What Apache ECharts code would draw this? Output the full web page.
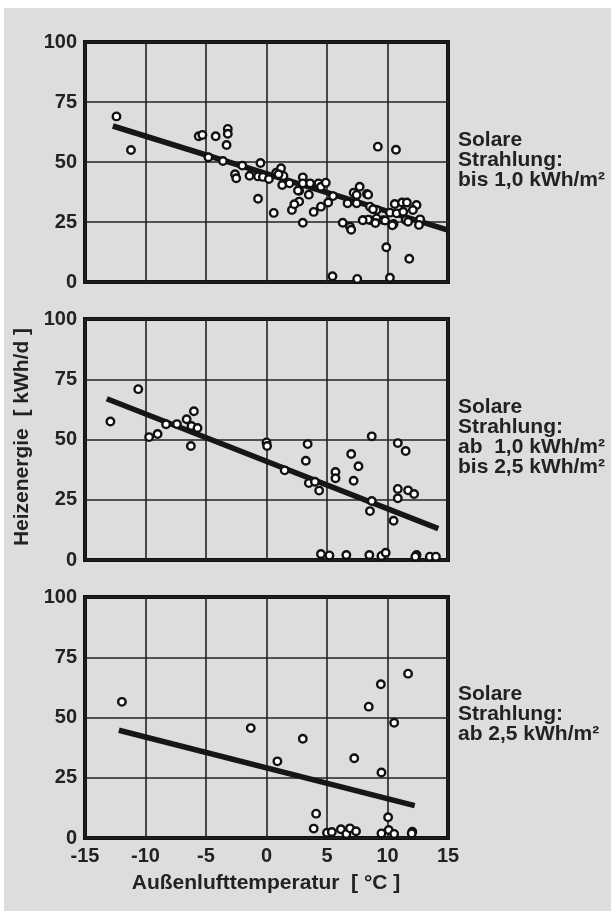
<!DOCTYPE html>
<html>
<head>
<meta charset="utf-8">
<script src="https://cdn.jsdelivr.net/npm/echarts@6/dist/echarts.min.js"></script>
<style>html,body{margin:0;padding:0;background:#fff}#c{width:611px;height:911px}</style>
</head>
<body>
<div id="c"></div>
<script>
// X axis (Außenlufttemperatur, °C) and Y axis (Heizenergie, kWh/d) ticks
const xTicks = [-15, -10, -5, 0, 5, 10, 15];
const yTicks = [0, 25, 50, 75, 100];

// Panel 1: Solare Strahlung bis 1,0 kWh/m²  -> [temperature, energy]
const panel1Points = [
  [-12.4,69.0],[-11.2,55.0],[-5.6,60.7],[-5.3,61.3],[-4.2,60.7],[-3.2,63.8],[-3.2,61.8],[-3.3,57.1],
  [-4.8,52.0],[-3.6,50.4],[-2.0,48.5],[-2.6,44.9],[-2.5,43.2],[-1.4,44.3],[-0.7,44.0],[-0.3,43.8],
  [-0.5,49.6],[-0.7,34.7],[0.2,42.9],[0.6,28.8],[0.8,45.5],[1.2,47.4],[1.4,44.2],[1.3,40.4],
  [1.9,41.1],[2.7,38.0],[3.0,43.6],[3.0,41.1],[3.6,41.1],[4.3,41.1],[4.5,39.7],[4.9,41.4],
  [5.5,35.8],[5.1,33.1],[4.5,31.4],[3.9,29.2],[2.7,33.5],[2.1,30.0],[2.3,32.4],[3.0,24.7],
  [3.5,36.4],[6.3,24.7],[6.9,23.0],[7.0,21.8],[6.7,32.8],[7.2,37.2],[7.45,36.3],[7.7,39.7],
  [8.3,36.7],[7.45,32.8],[8.0,25.8],[8.55,25.8],[9.1,26.5],[8.55,31.4],[9.1,30.0],[8.8,30.3],
  [9.65,25.8],[9.9,14.5],[10.6,32.5],[11.2,33.1],[11.6,33.1],[12.4,32.1],[10.2,28.9],[10.75,28.6],
  [11.3,29.3],[12.1,30.0],[9.8,25.6],[10.5,24.2],[11.5,25.8],[11.7,25.1],[12.7,26.1],[12.6,23.8],
  [11.8,9.7],[9.2,56.4],[10.7,55.1],[5.45,2.4],[7.5,1.3],[10.2,1.8],[9.0,24.6],[10.4,23.6],
  [8.4,36.4],[8.4,26.0],[7.95,25.7],[1.0,44.9],[2.6,38.1]
];
const panel1Trend = [[-12.7,65.0],[15,21.6]];

// Panel 2: Solare Strahlung ab 1,0 bis 2,5 kWh/m²
const panel2Points = [
  [-12.9,57.5],[-10.6,70.9],[-9.7,51.0],[-9.0,52.3],[-8.3,56.3],[-7.4,56.4],[-6.6,58.4],[-6.0,61.7],
  [-6.2,55.6],[-5.7,54.8],[-6.25,47.3],[0.0,48.8],[0.05,47.3],[1.5,37.2],[3.4,48.1],[3.25,41.2],
  [3.5,31.9],[4.0,32.5],[4.35,28.8],[4.5,2.5],[5.2,1.9],[5.7,36.5],[5.7,33.9],[6.6,2.1],
  [7.0,44.0],[7.6,38.9],[7.2,32.9],[8.7,51.3],[8.7,24.5],[8.55,20.3],[8.5,2.1],[9.5,1.7],
  [9.85,3.0],[10.5,16.3],[10.85,48.5],[11.5,45.2],[10.85,29.5],[10.85,25.6],[11.7,28.9],[12.2,27.4],
  [12.4,2.1],[12.3,1.4],[13.5,1.4],[14.0,1.4]
];
const panel2Trend = [[-13.2,66.9],[14.2,13.0]];

// Panel 3: Solare Strahlung ab 2,5 kWh/m²
const panel3Points = [
  [-11.95,56.5],[-1.3,45.6],[0.9,31.8],[3.0,41.2],[4.1,10.1],[3.9,3.9],[5.0,2.2],[5.4,2.5],
  [6.15,3.6],[6.6,1.7],[6.9,4.0],[7.4,2.8],[7.25,33.1],[8.45,54.5],[9.45,63.8],[9.5,27.2],
  [9.5,1.9],[10.05,8.6],[10.1,3.3],[10.55,1.7],[10.55,47.8],[11.7,68.2],[12.05,2.6],[12.0,1.9]
];
const panel3Trend = [[-12.2,44.7],[12.25,13.4]];

const panelLabels = [
  'Solare\nStrahlung:\nbis 1,0 kWh/m²',
  'Solare\nStrahlung:\nab  1,0 kWh/m²\nbis 2,5 kWh/m²',
  'Solare\nStrahlung:\nab 2,5 kWh/m²'
];
const xTitle = 'Außenlufttemperatur  [ °C ]';
const yTitle = 'Heizenergie  [ kWh/d ]';

const FONT = '"Liberation Sans", Arial, sans-serif';
const INK = '#222';
const gridTops = [42, 319, 597];
const gridHeights = [240, 241, 241];
const labelTops = [130, 397, 684];

const grids = gridTops.map((t, i) => ({
  left: 85, top: t, width: 363, height: gridHeights[i],
  show: true, borderColor: '#111', borderWidth: 4, backgroundColor: 'transparent'
}));
const xAxes = gridTops.map((t, i) => ({
  type: 'value', gridIndex: i, min: xTicks[0], max: xTicks[xTicks.length - 1], interval: 5,
  axisLine: { show: false }, axisTick: { show: false },
  axisLabel: { show: i === 2, fontFamily: FONT, fontWeight: 'bold', fontSize: 20, color: INK, margin: 8 },
  splitLine: { show: true, lineStyle: { color: '#222', width: 1.6 } }
}));
const yAxes = gridTops.map((t, i) => ({
  type: 'value', gridIndex: i, min: yTicks[0], max: yTicks[yTicks.length - 1], interval: 25,
  axisLine: { show: false }, axisTick: { show: false },
  axisLabel: { fontFamily: FONT, fontWeight: 'bold', fontSize: 20, color: INK, margin: 8 },
  splitLine: { show: true, lineStyle: { color: '#222', width: 1.6 } }
}));

const pointSets = [panel1Points, panel2Points, panel3Points];
const trends = [panel1Trend, panel2Trend, panel3Trend];
const series = [];
trends.forEach((tr, i) => series.push({
  type: 'line', xAxisIndex: i, yAxisIndex: i, data: tr, symbol: 'none', silent: true,
  lineStyle: { color: '#161616', width: 5.5 }, clip: true, z: 3, animation: false
}));
pointSets.forEach((pts, i) => series.push({
  type: 'scatter', xAxisIndex: i, yAxisIndex: i, data: pts, symbol: 'circle', symbolSize: 7.5,
  itemStyle: { color: '#fff', borderColor: '#111', borderWidth: 2.4, opacity: 1 }, z: 5, animation: false
}));

const graphic = [
  { type: 'rect', shape: { x: 0, y: 0, width: 4, height: 911 }, style: { fill: '#fff' }, silent: true },
  { type: 'rect', shape: { x: 0, y: 0, width: 611, height: 8 }, style: { fill: '#fff' }, silent: true },
  { type: 'text', x: 266, y: 883, style: { text: xTitle, font: 'bold 21px ' + FONT, fill: INK, textAlign: 'center', textVerticalAlign: 'middle' } },
  { type: 'text', x: 22, y: 437, rotation: Math.PI / 2, style: { text: yTitle, font: 'bold 21px ' + FONT, fill: INK, textAlign: 'center', textVerticalAlign: 'middle' } }
];
panelLabels.forEach((txt, i) => graphic.push({
  type: 'text', left: 458, top: labelTops[i],
  style: { text: txt, font: 'bold 21px ' + FONT, fill: INK, lineHeight: 20 }
}));

const chart = echarts.init(document.getElementById('c'), null, { renderer: 'canvas' });
chart.setOption({
  backgroundColor: '#dcdddf',
  animation: false,
  grid: grids, xAxis: xAxes, yAxis: yAxes, series: series, graphic: graphic
});
</script>
</body>
</html>
